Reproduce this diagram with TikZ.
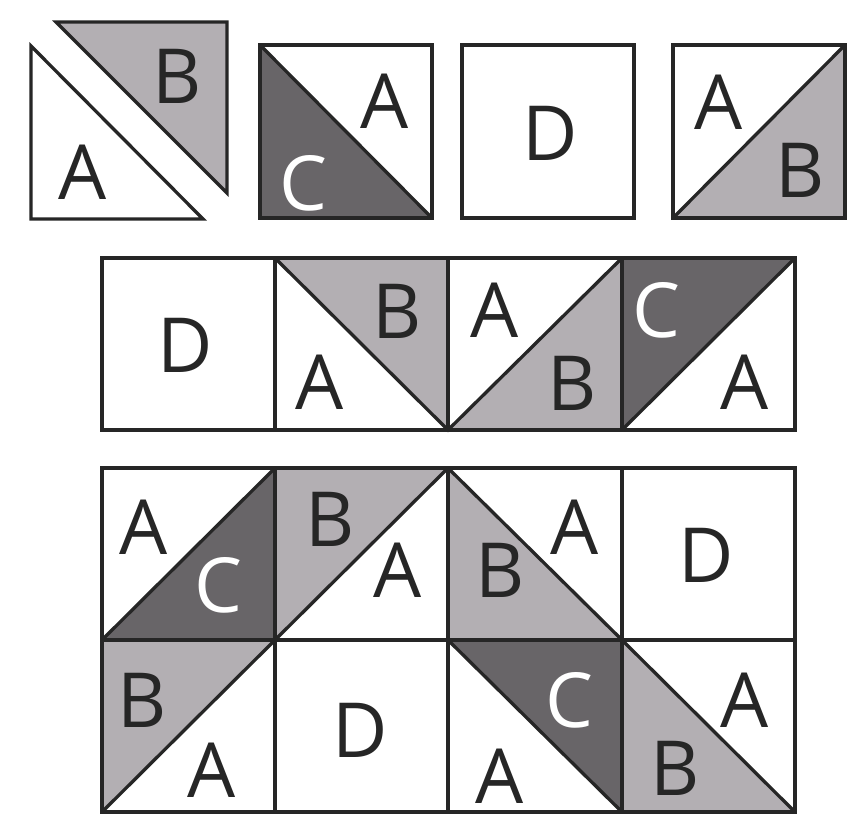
\documentclass[tikz,border=0pt]{standalone}
\usepackage{fontspec}
\setmainfont{Open Sans}
\definecolor{linec}{HTML}{262626}
\definecolor{bgray}{HTML}{B3AFB3}
\definecolor{cdark}{HTML}{686568}
\tikzset{
  edge/.style={draw=linec, line width=3.3pt, line join=miter},
  bfill/.style={fill=bgray},
  cfill/.style={fill=cdark},
  lab/.style={inner sep=0pt, font=\fontsize{76}{76}\selectfont, text=linec},
  labw/.style={lab, text=white}
}
\begin{document}
\begin{tikzpicture}[x=1pt,y=-1pt]
\useasboundingbox[fill=white] (0,0) rectangle (854,822);
% ---------- Row 1 ----------
% separated half-square triangles
\filldraw[edge, fill=white] (31,46) -- (31,219) -- (203,219) -- cycle;
\filldraw[edge, bfill] (56,22) -- (227,22) -- (227,193) -- cycle;
\node[lab] (r1a) at (83,172) {A};
\node[lab] (r1b) at (177,76) {B};
% square with C / A
\fill[cfill] (260,45) -- (260,218) -- (432,218) -- cycle;
\draw[edge] (260,45) rectangle (432,218);
\draw[edge] (260,45) -- (432,218);
\node[lab] (s2a) at (385,101) {A};
\node[labw] (s2c) at (303,183) {C};
% plain square D
\draw[edge] (462,45) rectangle (634,218);
\node[lab] (s3d) at (550,133) {D};
% square with A / B
\fill[bfill] (673,218) -- (845,218) -- (845,45) -- cycle;
\draw[edge] (673,45) rectangle (845,218);
\draw[edge] (673,218) -- (845,45);
\node[lab] (s4a) at (719,102) {A};
\node[lab] (s4b) at (800,170) {B};
% ---------- Row 2 ----------
\fill[bfill] (275,258) -- (448,258) -- (448,430) -- cycle;
\fill[bfill] (448,430) -- (622,430) -- (622,258) -- cycle;
\fill[cfill] (622,258) -- (795,258) -- (622,430) -- cycle;
\draw[edge] (102,258) rectangle (795,430);
\draw[edge] (275,258) -- (275,430);
\draw[edge] (448,258) -- (448,430);
\draw[edge] (622,258) -- (622,430);
\draw[edge] (275,258) -- (448,430) -- (622,258);
\draw[edge] (622,430) -- (795,258);
\node[lab] (m1d) at (185,345) {D};
\node[lab] (m2b) at (397,311) {B};
\node[lab] (m2a) at (320,382) {A};
\node[lab] (m3a) at (495,310) {A};
\node[lab] (m3b) at (572,383) {B};
\node[labw] (m4c) at (656,310) {C};
\node[lab] (m4a) at (745,382) {A};
% ---------- Row 3 ----------
\fill[cfill] (102,640) -- (275,640) -- (275,468) -- cycle;
\fill[bfill] (275,468) -- (448,468) -- (275,640) -- cycle;
\fill[bfill] (448,468) -- (448,640) -- (622,640) -- cycle;
\fill[bfill] (102,640) -- (275,640) -- (102,812) -- cycle;
\fill[cfill] (448,640) -- (622,640) -- (622,812) -- cycle;
\fill[bfill] (622,640) -- (622,812) -- (795,812) -- cycle;
\draw[edge] (102,468) rectangle (795,812);
\draw[edge] (102,640) -- (795,640);
\draw[edge] (275,468) -- (275,812);
\draw[edge] (448,468) -- (448,812);
\draw[edge] (622,468) -- (622,812);
\draw[edge] (102,640) -- (275,468);
\draw[edge] (275,640) -- (448,468);
\draw[edge] (448,468) -- (622,640);
\draw[edge] (102,812) -- (275,640);
\draw[edge] (448,640) -- (622,812);
\draw[edge] (622,640) -- (795,812);
\node[lab] (t1a) at (144,527) {A};
\node[labw] (t1c) at (218,585) {C};
\node[lab] (t2b) at (330,519) {B};
\node[lab] (t2a) at (398,570) {A};
\node[lab] (t3a) at (575,527) {A};
\node[lab] (t3b) at (500,570) {B};
\node[lab] (t4d) at (706,555) {D};
\node[lab] (u1b) at (142,700) {B};
\node[lab] (u1a) at (212,770) {A};
\node[lab] (u2d) at (360,730) {D};
\node[labw] (u3c) at (569,700) {C};
\node[lab] (u3a) at (500,776) {A};
\node[lab] (u4a) at (745,700) {A};
\node[lab] (u4b) at (675,768) {B};
\end{tikzpicture}
\end{document}
